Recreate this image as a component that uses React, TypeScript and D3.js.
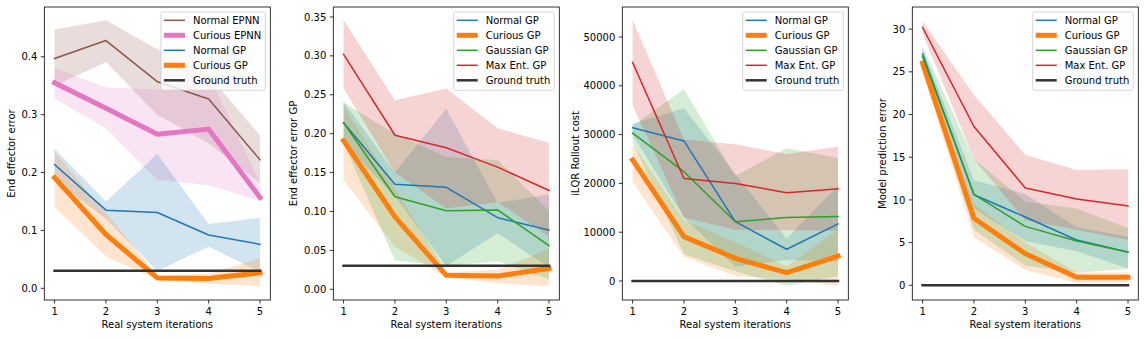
import React from "react";
import * as d3 from "d3";

const iterations = [1, 2, 3, 4, 5];

// Panel 1: End effector error
const p1NormalEPNN = [0.397, 0.428, 0.357, 0.327, 0.222];
const p1NormalEPNNUp = [0.447, 0.463, 0.413, 0.368, 0.264];
const p1NormalEPNNLo = [0.35, 0.391, 0.3, 0.25, 0.182];
const p1CuriousEPNN = [0.355, 0.311, 0.266, 0.275, 0.157];
const p1CuriousEPNNUp = [0.381, 0.347, 0.343, 0.37, 0.182];
const p1CuriousEPNNLo = [0.328, 0.276, 0.187, 0.178, 0.151];
const normalGPErr = [0.214, 0.135, 0.131, 0.092, 0.076];
const normalGPErrUp = [0.241, 0.15, 0.232, 0.111, 0.122];
const normalGPErrLo = [0.187, 0.12, 0.03, 0.072, 0.028];
const curiousGPErr = [0.191, 0.093, 0.018, 0.017, 0.027];
const curiousGPErrUp = [0.236, 0.13, 0.022, 0.025, 0.052];
const curiousGPErrLo = [0.14, 0.055, 0.015, 0.008, 0.004];
const groundTruthErr = [0.0304, 0.0304, 0.0304, 0.0304, 0.0304];

// Panel 2: End effector error GP
const gaussianGPErr = [0.214, 0.119, 0.101, 0.102, 0.056];
const gaussianGPErrUp = [0.24, 0.2, 0.17, 0.166, 0.101];
const gaussianGPErrLo = [0.188, 0.037, 0.03, 0.036, 0.013];
const maxEntGPErr = [0.302, 0.198, 0.182, 0.157, 0.127];
const maxEntGPErrUp = [0.346, 0.243, 0.258, 0.207, 0.188];
const maxEntGPErrLo = [0.258, 0.15, 0.104, 0.112, 0.068];

// Panel 3: iLQR Rollout cost
const normalGPCost = [31400, 28700, 12150, 6500, 11700];
const normalGPCostUp = [32200, 35400, 22000, 8700, 19500];
const normalGPCostLo = [30000, 13000, 2900, 4300, 4000];
const curiousGPCost = [24800, 9100, 4650, 1700, 5100];
const curiousGPCostUp = [28200, 12500, 8000, 3000, 10500];
const curiousGPCostLo = [20300, 5000, 1000, 400, -1000];
const gaussianGPCost = [30300, 22400, 12150, 13000, 13200];
const gaussianGPCostUp = [31800, 39300, 21500, 27200, 25200];
const gaussianGPCostLo = [28500, 5500, 2000, -1000, 1000];
const maxEntGPCost = [44800, 21000, 20000, 18100, 18900];
const maxEntGPCostUp = [53500, 29000, 28000, 26000, 27500];
const maxEntGPCostLo = [36000, 13000, 10500, 10400, 10300];
const groundTruthCost = [0, 0, 0, 0, 0];

// Panel 4: Model prediction error
const normalGPPred = [27.1, 10.6, 8.0, 5.3, 3.9];
const normalGPPredUp = [27.7, 12.3, 10.7, 6.8, 5.7];
const normalGPPredLo = [26.3, 9.0, 5.2, 4.0, 2.0];
const curiousGPPred = [26.0, 7.85, 3.7, 0.95, 0.95];
const curiousGPPredUp = [26.6, 9.5, 5.0, 1.5, 1.5];
const curiousGPPredLo = [25.0, 5.6, 1.8, 0.3, 0.3];
const gaussianGPPred = [26.8, 10.65, 6.9, 5.2, 3.9];
const gaussianGPPredUp = [28.0, 14.8, 9.8, 9.0, 6.7];
const gaussianGPPredLo = [25.6, 6.5, 2.3, 1.5, 1.9];
const maxEntGPPred = [30.2, 18.6, 11.4, 10.1, 9.3];
const maxEntGPPredUp = [30.9, 22.3, 15.3, 13.5, 13.6];
const maxEntGPPredLo = [29.5, 14.8, 7.6, 6.5, 5.3];
const groundTruthPred = [0, 0, 0, 0, 0];

const p1Ticks = [0.0, 0.1, 0.2, 0.3, 0.4];
const p2Ticks = [0.0, 0.05, 0.1, 0.15, 0.2, 0.25, 0.3, 0.35];
const p3Ticks = [0, 10000, 20000, 30000, 40000, 50000];
const p4Ticks = [0, 5, 10, 15, 20, 25, 30];

const C = {
  blue: "#1f77b4",
  orange: "#ff7f0e",
  green: "#2ca02c",
  red: "#d62728",
  brown: "#8c564b",
  pink: "#e377c2",
  gt: "#333333",
};

type Series = {
  label: string;
  color: string;
  mean: number[];
  up?: number[];
  lo?: number[];
  width: number;
};

const FONT = "DejaVu Sans, sans-serif";

function measure(text: string): number {
  if (typeof document === "undefined") return text.length * 6;
  const c = document.createElement("canvas").getContext("2d");
  if (!c) return text.length * 6;
  c.font = "10px 'DejaVu Sans'";
  return c.measureText(text).width;
}

type PanelProps = {
  left: number;
  ylabel: string;
  ylabelOffset: number;
  yDomain: [number, number];
  ticks: number[];
  fmt: (v: number) => string;
  series: Series[];
};

const TOP = 7;
const BOTTOM = 300;
const WIDTH = 226;

function Panel({ left, ylabel, ylabelOffset, yDomain, ticks, fmt, series }: PanelProps) {
  const x = d3.scaleLinear().domain([0.8, 5.2]).range([left, left + WIDTH]);
  const y = d3.scaleLinear().domain(yDomain).range([BOTTOM, TOP]);
  const line = d3
    .line<number>()
    .x((_, i) => x(iterations[i]))
    .y((d) => y(d));
  const area = (up: number[], lo: number[]) =>
    d3
      .area<number>()
      .x((_, i) => x(iterations[i]))
      .y0((_, i) => y(lo[i]))
      .y1((_, i) => y(up[i]))(iterations) || "";

  const maxW = Math.max(...series.map((s) => measure(s.label)));
  const boxRight = left + WIDTH - 5;
  const boxLeft = boxRight - (maxW + 36);
  const boxTop = TOP + 5;
  const rowY = (i: number) => boxTop + 8.3 + i * 15;

  return (
    <g>
      <defs>
        <clipPath id={`clip${left}`}>
          <rect x={left} y={TOP} width={WIDTH} height={BOTTOM - TOP} />
        </clipPath>
      </defs>
      <g clipPath={`url(#clip${left})`}>
        {series
          .filter((s) => s.up && s.lo)
          .map((s) => (
            <path key={"a" + s.label} d={area(s.up!, s.lo!)} fill={s.color} fillOpacity={0.2} stroke="none" />
          ))}
        {series.map((s) => (
          <path
            key={"l" + s.label}
            d={line(s.mean) || ""}
            fill="none"
            stroke={s.color}
            strokeWidth={s.width}
            strokeLinejoin="round"
            strokeLinecap="square"
          />
        ))}
      </g>
      {/* frame */}
      <rect x={left} y={TOP} width={WIDTH} height={BOTTOM - TOP} fill="none" stroke="#000" strokeWidth={0.8} />
      {/* x ticks */}
      {iterations.map((v) => (
        <g key={"xt" + v}>
          <line x1={x(v)} x2={x(v)} y1={BOTTOM} y2={BOTTOM + 3.5} stroke="#000" strokeWidth={0.8} />
          <text x={x(v)} y={314.5} textAnchor="middle" fontSize={10} fontFamily={FONT} fill="#000">
            {v}
          </text>
        </g>
      ))}
      {/* y ticks */}
      {ticks.map((v) => (
        <g key={"yt" + v}>
          <line x1={left - 3.5} x2={left} y1={y(v)} y2={y(v)} stroke="#000" strokeWidth={0.8} />
          <text x={left - 7} y={y(v) + 3.6} textAnchor="end" fontSize={10} fontFamily={FONT} fill="#000">
            {fmt(v)}
          </text>
        </g>
      ))}
      <text x={left + WIDTH / 2} y={328} textAnchor="middle" fontSize={10} fontFamily={FONT} fill="#000">
        Real system iterations
      </text>
      <text
        transform={`translate(${left - ylabelOffset},${(TOP + BOTTOM) / 2}) rotate(-90)`}
        textAnchor="middle"
        fontSize={10}
        fontFamily={FONT}
        fill="#000"
      >
        {ylabel}
      </text>
      {/* legend */}
      <rect
        x={boxLeft}
        y={boxTop}
        width={boxRight - boxLeft}
        height={rowY(series.length - 1) + 10 - boxTop}
        rx={2}
        fill="#fff"
        fillOpacity={0.8}
        stroke="#cccccc"
        strokeWidth={0.8}
      />
      {series.map((s, i) => (
        <g key={"lg" + s.label}>
          <line
            x1={boxLeft + 3}
            x2={boxLeft + 24}
            y1={rowY(i)}
            y2={rowY(i)}
            stroke={s.color}
            strokeWidth={s.width}
          />
          <text x={boxLeft + 32} y={rowY(i) + 3.6} fontSize={10} fontFamily={FONT} fill="#000">
            {s.label}
          </text>
        </g>
      ))}
    </g>
  );
}

export default function App() {
  const s1: Series[] = [
    { label: "Normal EPNN", color: C.brown, mean: p1NormalEPNN, up: p1NormalEPNNUp, lo: p1NormalEPNNLo, width: 1.5 },
    { label: "Curious EPNN", color: C.pink, mean: p1CuriousEPNN, up: p1CuriousEPNNUp, lo: p1CuriousEPNNLo, width: 5 },
    { label: "Normal GP", color: C.blue, mean: normalGPErr, up: normalGPErrUp, lo: normalGPErrLo, width: 1.5 },
    { label: "Curious GP", color: C.orange, mean: curiousGPErr, up: curiousGPErrUp, lo: curiousGPErrLo, width: 5 },
    { label: "Ground truth", color: C.gt, mean: groundTruthErr, width: 2.5 },
  ];
  const s2: Series[] = [
    { label: "Normal GP", color: C.blue, mean: normalGPErr, up: normalGPErrUp, lo: normalGPErrLo, width: 1.5 },
    { label: "Curious GP", color: C.orange, mean: curiousGPErr, up: curiousGPErrUp, lo: curiousGPErrLo, width: 5 },
    { label: "Gaussian GP", color: C.green, mean: gaussianGPErr, up: gaussianGPErrUp, lo: gaussianGPErrLo, width: 1.5 },
    { label: "Max Ent. GP", color: C.red, mean: maxEntGPErr, up: maxEntGPErrUp, lo: maxEntGPErrLo, width: 1.5 },
    { label: "Ground truth", color: C.gt, mean: groundTruthErr, width: 2.5 },
  ];
  const s3: Series[] = [
    { label: "Normal GP", color: C.blue, mean: normalGPCost, up: normalGPCostUp, lo: normalGPCostLo, width: 1.5 },
    { label: "Curious GP", color: C.orange, mean: curiousGPCost, up: curiousGPCostUp, lo: curiousGPCostLo, width: 5 },
    { label: "Gaussian GP", color: C.green, mean: gaussianGPCost, up: gaussianGPCostUp, lo: gaussianGPCostLo, width: 1.5 },
    { label: "Max Ent. GP", color: C.red, mean: maxEntGPCost, up: maxEntGPCostUp, lo: maxEntGPCostLo, width: 1.5 },
    { label: "Ground truth", color: C.gt, mean: groundTruthCost, width: 2.5 },
  ];
  const s4: Series[] = [
    { label: "Normal GP", color: C.blue, mean: normalGPPred, up: normalGPPredUp, lo: normalGPPredLo, width: 1.5 },
    { label: "Curious GP", color: C.orange, mean: curiousGPPred, up: curiousGPPredUp, lo: curiousGPPredLo, width: 5 },
    { label: "Gaussian GP", color: C.green, mean: gaussianGPPred, up: gaussianGPPredUp, lo: gaussianGPPredLo, width: 1.5 },
    { label: "Max Ent. GP", color: C.red, mean: maxEntGPPred, up: maxEntGPPredUp, lo: maxEntGPPredLo, width: 1.5 },
    { label: "Ground truth", color: C.gt, mean: groundTruthPred, width: 2.5 },
  ];

  return (
    <svg
      width={1144}
      height={338}
      style={{ position: "absolute", left: 0, top: 0, background: "#fff" }}
    >
      <rect width={1144} height={338} fill="#fff" />
      <Panel
        left={44.3}
        ylabel="End effector error"
        ylabelOffset={29.8}
        yDomain={[-0.0202, 0.486]}
        ticks={p1Ticks}
        fmt={d3.format(".1f")}
        series={s1}
      />
      <Panel
        left={333.3}
        ylabel="End effector error GP"
        ylabelOffset={36.3}
        yDomain={[-0.01375, 0.3628]}
        ticks={p2Ticks}
        fmt={d3.format(".2f")}
        series={s2}
      />
      <Panel
        left={622.3}
        ylabel="iLQR Rollout cost"
        ylabelOffset={43.3}
        yDomain={[-3893, 56148]}
        ticks={p3Ticks}
        fmt={d3.format("d")}
        series={s3}
      />
      <Panel
        left={912.3}
        ylabel="Model prediction error"
        ylabelOffset={26.8}
        yDomain={[-1.72, 32.59]}
        ticks={p4Ticks}
        fmt={d3.format("d")}
        series={s4}
      />
    </svg>
  );
}
